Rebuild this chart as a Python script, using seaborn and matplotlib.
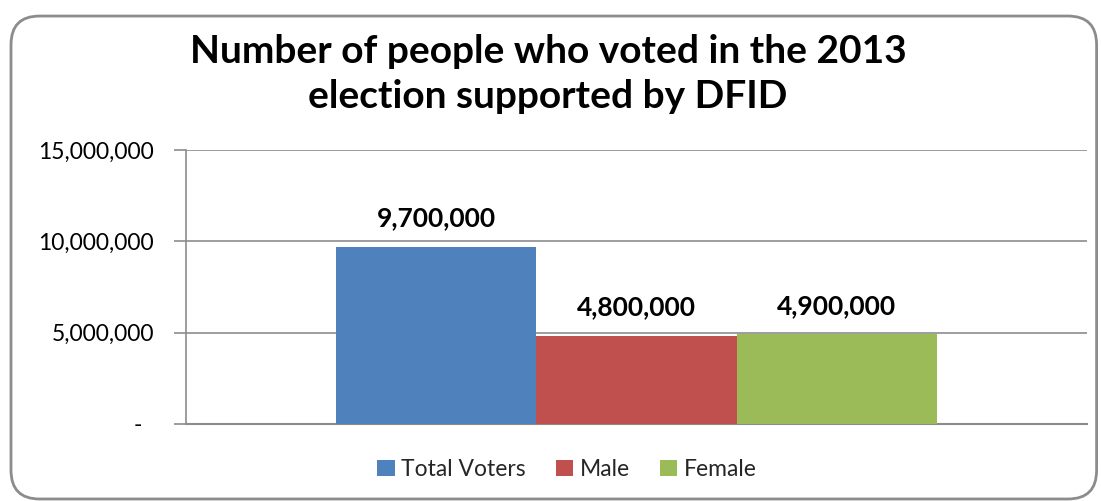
import matplotlib
matplotlib.use("Agg")
import matplotlib.pyplot as plt
import seaborn as sns
import pandas as pd
from matplotlib.patches import FancyBboxPatch, Patch
from matplotlib.ticker import FuncFormatter

categories = ["2013 election"]
series = ["Total Voters", "Male", "Female"]
values = [9700000, 4800000, 4900000]
colors = ["#4F81BD", "#C0504D", "#9BBB59"]
yticks = [0, 5000000, 10000000, 15000000]
title = "Number of people who voted in the 2013\nelection supported by DFID"

df = pd.DataFrame({"category": categories * len(series), "series": series, "value": values})

sns.set_theme(style="white")
plt.rcParams["font.family"] = ["Lato", "DejaVu Sans"]

fig = plt.figure(figsize=(11.01, 5.01), dpi=100)
fig.patch.set_facecolor("white")

frame = FancyBboxPatch((0.010, 0.004), 0.986, 0.964, boxstyle="round,pad=0,rounding_size=0.026",
                       transform=fig.transFigure, facecolor="white", edgecolor="#8c8c8c",
                       linewidth=2.0, mutation_aspect=11.01 / 5.01, zorder=-5)
fig.patches.append(frame)

ax = fig.add_axes([0.1689, 0.1537, 0.8184, 0.547])
ax.set_facecolor("none")
ax.set_zorder(2)
sns.barplot(data=df, x="category", y="value", hue="series", hue_order=series,
            palette=colors, width=0.6, saturation=1, ax=ax, legend=False, zorder=3,
            linewidth=0, edgecolor="none")

ax.set_xlim(-0.45, 0.45)
ax.set_ylim(0, 15000000)
ax.set_yticks(yticks)
ax.yaxis.set_major_formatter(FuncFormatter(lambda v, p: "-  " if v == 0 else f"{int(v):,}"))
ax.yaxis.grid(True, color="#8c8c8c", linewidth=1.2)
ax.set_axisbelow(True)
ax.set_xticks([])
ax.set_xlabel("")
ax.set_ylabel("")
for s in ["top", "right"]:
    ax.spines[s].set_visible(False)
ax.spines["left"].set_color("#8c8c8c")
ax.spines["bottom"].set_color("#8c8c8c")
ax.spines["left"].set_linewidth(1.2)
ax.spines["bottom"].set_linewidth(1.5)
ax.tick_params(axis="y", length=9, width=1.2, color="#8c8c8c", labelsize=16.5, pad=14, left=True)
for lbl in ax.get_yticklabels():
    lbl.set_color("black")

for cont in ax.containers:
    ax.bar_label(cont, labels=[f"{int(v):,}" for v in cont.datavalues], padding=12,
                 fontsize=19, fontweight="bold", color="black")

fig.text(0.4977, 0.853, title, ha="center", va="center", fontsize=28, fontweight="bold",
         linespacing=1.34, color="black")

handles = [Patch(facecolor=c, edgecolor="none") for c in colors]
fig.legend(handles, series, loc="center", bbox_to_anchor=(0.515, 0.063), ncol=3, frameon=False,
           fontsize=16.5, handlelength=0.75, handleheight=0.75, handletextpad=0.3, columnspacing=1.3)

fig.savefig("out.png", dpi=100)
